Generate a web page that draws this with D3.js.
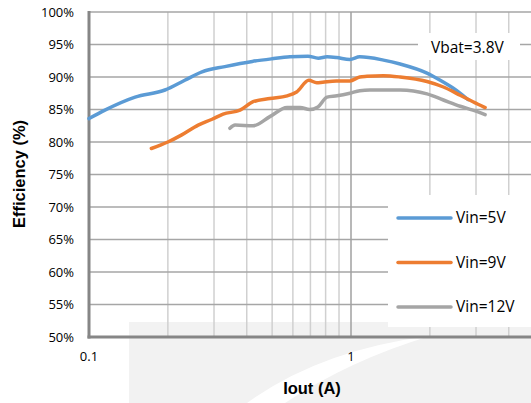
<!DOCTYPE html>
<html><head><meta charset="utf-8">
<script src="https://cdn.jsdelivr.net/npm/d3@7/dist/d3.min.js"></script>
<style>body{margin:0;background:#fff;} svg{display:block;}</style>
</head><body><div id="chart"></div>
<script>
// ---- data ----
const seriesNames = ["Vin=5V", "Vin=9V", "Vin=12V"];
const seriesColors = ["#5b9bd5", "#ed7d31", "#a5a5a5"];
const iout5V = [0.1,0.115,0.15,0.195,0.232,0.27,0.33,0.42,0.5,0.585,0.685,0.75,0.81,0.88,0.99,1.08,1.33,1.54,1.95,2.19,2.45,2.8];
const eff5V  = [83.6,84.9,86.9,88.0,89.5,90.8,91.6,92.4,92.8,93.1,93.2,92.9,93.1,93.0,92.7,93.1,92.6,92.0,90.6,89.5,88.3,86.5];
const iout9V = [0.173,0.2,0.226,0.261,0.295,0.325,0.377,0.423,0.49,0.57,0.62,0.69,0.74,0.78,0.88,0.99,1.08,1.15,1.33,1.54,1.95,2.24,2.61,2.92,3.25];
const eff9V  = [79.0,80.0,81.1,82.6,83.5,84.3,84.9,86.2,86.7,87.1,87.7,89.5,89.1,89.2,89.4,89.4,90.0,90.1,90.2,90.0,89.3,88.5,87.2,86.2,85.3];
const iout12V = [0.345,0.361,0.423,0.49,0.57,0.64,0.695,0.748,0.81,0.884,0.99,1.08,1.18,1.54,1.95,2.24,2.61,2.92,3.25];
const eff12V  = [82.1,82.6,82.5,83.9,85.3,85.3,85.0,85.4,86.9,87.1,87.5,87.9,88.0,88.0,87.4,86.5,85.5,84.9,84.2];
const yTicks = [50,55,60,65,70,75,80,85,90,95,100];
const xMajorTicks = [0.1, 1];
const xMinorTicks = [0.2,0.3,0.4,0.5,0.6,0.7,0.8,0.9,2,3,4,5,6,7,8,9];
const annotation = "Vbat=3.8V";

const W = 531, H = 403;
const svg = d3.select("#chart").append("svg").attr("width", W).attr("height", H);

const x = d3.scaleLog().domain([0.1, 10]).range([89, 613]);
const y = d3.scaleLinear().domain([50, 100]).range([337, 12]);

// watermark background
svg.append("rect").attr("x",129).attr("y",322).attr("width",W-129).attr("height",H-322).attr("fill","#f2f2f2");
svg.append("path").attr("d","M247,403 Q320,350 430,336 Q350,360 285,403 Z").attr("fill","#ffffff");

const fontTick = "'Open Sans', sans-serif";

// vertical gridlines
svg.append("g").selectAll("line").data(xMinorTicks).join("line")
  .attr("x1", d=>x(d)).attr("x2", d=>x(d)).attr("y1", y(100)).attr("y2", y(50))
  .attr("stroke", "#d0d0d0").attr("stroke-width", 1.5);
// horizontal gridlines
svg.append("g").selectAll("line").data(yTicks.filter(d=>d>50)).join("line")
  .attr("x1", 89).attr("x2", W).attr("y1", d=>y(d)).attr("y2", d=>y(d))
  .attr("stroke", "#a6a6a6").attr("stroke-width", 1.5);
svg.append("line").attr("x1", x(1)).attr("x2", x(1)).attr("y1", y(100)).attr("y2", y(50))
  .attr("stroke", "#a0a0a0").attr("stroke-width", 1.5);

// annotation box
svg.append("rect").attr("x",418).attr("y",33).attr("width",102).attr("height",27).attr("fill","#fff");
svg.append("text").attr("x",431).attr("y",52.5).attr("font-family",fontTick).attr("font-size",15.5)
  .attr("fill","#000").text(annotation);

// legend box (drawn before lines? legend is on top of gridlines)
svg.append("rect").attr("x",388).attr("y",195).attr("width",W-388).attr("height",132).attr("fill","#fff");

// axes lines
svg.append("line").attr("x1",89).attr("x2",89).attr("y1",11).attr("y2",338.5).attr("stroke","#868686").attr("stroke-width",3);
svg.append("line").attr("x1",87.5).attr("x2",W).attr("y1",337).attr("y2",337).attr("stroke","#868686").attr("stroke-width",3);

// series
const allSeries = [
  {name: seriesNames[0], color: seriesColors[0], xs: iout5V, ys: eff5V},
  {name: seriesNames[1], color: seriesColors[1], xs: iout9V, ys: eff9V},
  {name: seriesNames[2], color: seriesColors[2], xs: iout12V, ys: eff12V}
];
const line = d3.line().x(d=>x(d[0])).y(d=>y(d[1])).curve(d3.curveMonotoneX);
// draw in order gray, orange, blue? Reference: orange over blue near end
[allSeries[0], allSeries[2], allSeries[1]].forEach(s => {
  svg.append("path").datum(s.xs.map((v,i)=>[v, s.ys[i]]))
    .attr("d", line).attr("fill","none").attr("stroke", s.color)
    .attr("stroke-width", 3.5).attr("stroke-linecap","round").attr("stroke-linejoin","round");
});

// y tick labels
svg.append("g").selectAll("text").data(yTicks).join("text")
  .attr("x", 74).attr("y", d=>y(d)).attr("dy","0.35em").attr("text-anchor","end")
  .attr("font-family", fontTick).attr("font-size", 13).attr("fill","#000")
  .text(d=>d+"%");
// x tick labels
svg.append("g").selectAll("text").data(xMajorTicks).join("text")
  .attr("x", d=>x(d)).attr("y", 356).attr("dy","0.35em").attr("text-anchor","middle")
  .attr("font-family", fontTick).attr("font-size", 13).attr("fill","#000")
  .text(d=>String(d));

// axis titles
svg.append("text").attr("transform","translate(25,174) rotate(-90)").attr("text-anchor","middle")
  .attr("font-family","'Liberation Sans', Arial, sans-serif").attr("font-weight","bold").attr("font-size",16.5)
  .attr("fill","#000").text("Efficiency (%)");
svg.append("text").attr("x",312).attr("y",394).attr("text-anchor","middle")
  .attr("font-family","'Liberation Sans', Arial, sans-serif").attr("font-weight","bold").attr("font-size",16.5)
  .attr("fill","#000").text("Iout (A)");

// legend
const legY = [218, 262.5, 307];
allSeries.forEach((s,i) => {
  svg.append("line").attr("x1",398).attr("x2",451).attr("y1",legY[i]).attr("y2",legY[i])
    .attr("stroke", s.color).attr("stroke-width",3.5).attr("stroke-linecap","round");
  svg.append("text").attr("x",456).attr("y",legY[i]).attr("dy","0.35em")
    .attr("font-family",fontTick).attr("font-size",15.5).attr("fill","#000").text(s.name);
});
</script></body></html>
